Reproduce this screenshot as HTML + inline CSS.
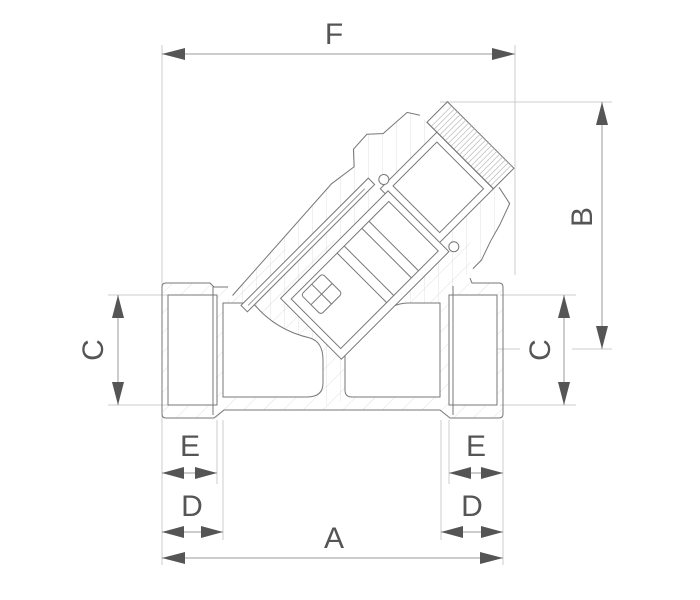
<!DOCTYPE html>
<html><head><style>
html,body{margin:0;padding:0;background:#fff;}
svg{display:block;}
text{font-family:"Liberation Sans",sans-serif;fill:#555;font-size:30px;}
</style></head><body>
<svg width="700" height="600" viewBox="0 0 700 600" xmlns="http://www.w3.org/2000/svg">
<defs>
<pattern id="h" patternUnits="userSpaceOnUse" width="14" height="14" patternTransform="rotate(45)">
<line x1="0" y1="0" x2="0" y2="14" stroke="#d8d8d8" stroke-width="0.8"/>
</pattern>
</defs>
<g stroke="#ccc" stroke-width="1" fill="none">
<line x1="162" y1="45" x2="162" y2="565"/>
<line x1="515" y1="45" x2="515" y2="275"/>
<line x1="440" y1="102" x2="612" y2="102"/>
<line x1="572" y1="349" x2="612" y2="349"/>
<line x1="470" y1="349" x2="520" y2="349"/>
<line x1="108" y1="295" x2="170" y2="295"/>
<line x1="108" y1="405" x2="170" y2="405"/>
<line x1="500" y1="295" x2="576" y2="295"/>
<line x1="500" y1="405" x2="576" y2="405"/>
<line x1="217" y1="420" x2="217" y2="484"/>
<line x1="223" y1="420" x2="223" y2="540"/>
<line x1="449" y1="420" x2="449" y2="484"/>
<line x1="441" y1="420" x2="441" y2="540"/>
<line x1="503" y1="420" x2="503" y2="565"/>
</g>
<g stroke="#999" stroke-width="1">
<line x1="162" y1="54" x2="515" y2="54"/>
<line x1="602" y1="102" x2="602" y2="349"/>
<line x1="118" y1="295" x2="118" y2="405"/>
<line x1="564" y1="295" x2="564" y2="405"/>
<line x1="162" y1="473" x2="217" y2="473"/>
<line x1="449" y1="473" x2="503" y2="473"/>
<line x1="162" y1="532" x2="223" y2="532"/>
<line x1="441" y1="532" x2="503" y2="532"/>
<line x1="162" y1="558" x2="503" y2="558"/>
</g>
<g fill="#555">
<polygon points="162,54 185,48 185,60"/><polygon points="515,54 492,48 492,60"/>
<polygon points="602,102 596,125 608,125"/><polygon points="602,349 596,326 608,326"/>
<polygon points="118,295 112,318 124,318"/><polygon points="118,405 112,382 124,382"/>
<polygon points="564,295 558,318 570,318"/><polygon points="564,405 558,382 570,382"/>
<polygon points="162,473 184,467 184,479"/><polygon points="217,473 195,467 195,479"/>
<polygon points="449,473 471,467 471,479"/><polygon points="503,473 481,467 481,479"/>
<polygon points="162,532 184,526 184,538"/><polygon points="223,532 201,526 201,538"/>
<polygon points="441,532 463,526 463,538"/><polygon points="503,532 481,526 481,538"/>
<polygon points="162,558 185,552 185,564"/><polygon points="503,558 480,552 480,564"/>
</g>
<text x="334" y="44" text-anchor="middle">F</text>
<text x="334" y="548" text-anchor="middle">A</text>
<text x="190" y="456" text-anchor="middle">E</text>
<text x="476" y="456" text-anchor="middle">E</text>
<text x="192" y="516" text-anchor="middle">D</text>
<text x="472" y="516" text-anchor="middle">D</text>
<text transform="translate(93,350) rotate(-90)" text-anchor="middle" dy="10">C</text>
<text transform="translate(540,350) rotate(-90)" text-anchor="middle" dy="10">C</text>
<text transform="translate(582,217) rotate(-90)" text-anchor="middle" dy="10">B</text>

<path d="M166,283 L210,283 L214,287 L228,287 L300,240 L470,240 L470,278 L472,283 L499,283 Q503,283 503,287 L503,414 Q503,418 499,418 L450,418 L440,410 L232,410 L222,418 L166,418 Q162,418 162,414 L162,287 Q162,283 166,283Z" fill="url(#h)" stroke="none"/>
<g transform="translate(480.7,135) rotate(135)">
<polygon points="29,57 36,68 68,70 80,81 100,80 112,67 140,71 300,62 300,-89 88,-89 68,-82 50,-77 28,-69 24,-50" fill="url(#h)" stroke="none"/>
<polyline points="29,57 36,68 68,70 80,81 100,80 112,67 140,71 289,62" fill="none" stroke="#777"/>
<polyline points="24,-50 28,-69 50,-77 68,-82 88,-89 100,-89" fill="none" stroke="#777"/>
</g>
<g stroke="#777" stroke-width="1" fill="none">
<path d="M228,287 L214,287 L210,283 L166,283 Q162,283 162,287 L162,414 Q162,418 166,418 L214,418 L224,410 L440,410 L450,418 L499,418 Q503,418 503,414 L503,287 Q503,283 499,283 L472,283 L470,278"/>
<rect x="168" y="295" width="49" height="110" fill="#fff"/>
<rect x="449" y="295" width="48" height="110" fill="#fff"/>
<line x1="213" y1="286" x2="213" y2="415"/>
<line x1="453" y1="286" x2="453" y2="415"/>
<path d="M223,303 L253,303 Q275,330 310,338 Q323,342 323,360 L323,383 Q323,397 307,397 L223,397Z" fill="#fff"/>
<path d="M345,350 L377,318 Q390,304 407,303 L440,303 L440,397 L352,397 Q345,397 345,390Z" fill="#fff"/>
</g>
<g transform="translate(480.7,135) rotate(135)" stroke="#777" stroke-width="1">
<rect x="110" y="40" width="180" height="9" fill="#fff"/>
<line x1="120" y1="44" x2="285" y2="44" stroke="#999"/>
<rect x="29" y="-47" width="80" height="80" fill="#fff"/>
<rect x="36" y="-40" width="62" height="66" fill="#fff"/>
<rect x="105" y="-60" width="152" height="86" fill="#fff"/>
<rect x="112" y="-52" width="138" height="70" fill="#fff"/>
<line x1="140" y1="-52" x2="140" y2="18"/>
<line x1="150" y1="-52" x2="150" y2="18"/>
<line x1="175" y1="-52" x2="175" y2="18"/>
<line x1="185" y1="-52" x2="185" y2="18"/>
<rect x="210" y="-14" width="30" height="28" fill="#fff" rx="3"/>
<line x1="210" y1="0" x2="240" y2="0"/>
<line x1="225" y1="-14" x2="225" y2="14"/>
<circle cx="100" cy="37" r="5" fill="#fff"/>
<circle cx="98" cy="-60" r="5" fill="#fff"/>
<rect x="0" y="-47" width="29" height="94" fill="#fff"/>
<g stroke="#bbb" stroke-width="0.7">
<line x1="0" y1="-43" x2="29" y2="-43"/><line x1="0" y1="-39" x2="29" y2="-39"/>
<line x1="0" y1="-35" x2="29" y2="-35"/><line x1="0" y1="-31" x2="29" y2="-31"/>
<line x1="0" y1="-27" x2="29" y2="-27"/><line x1="0" y1="-23" x2="29" y2="-23"/>
<line x1="0" y1="-19" x2="29" y2="-19"/><line x1="0" y1="-15" x2="29" y2="-15"/>
<line x1="0" y1="-11" x2="29" y2="-11"/><line x1="0" y1="-7" x2="29" y2="-7"/>
<line x1="0" y1="-3" x2="29" y2="-3"/><line x1="0" y1="1" x2="29" y2="1"/>
<line x1="0" y1="5" x2="29" y2="5"/><line x1="0" y1="9" x2="29" y2="9"/>
<line x1="0" y1="13" x2="29" y2="13"/><line x1="0" y1="17" x2="29" y2="17"/>
<line x1="0" y1="21" x2="29" y2="21"/><line x1="0" y1="25" x2="29" y2="25"/>
<line x1="0" y1="29" x2="29" y2="29"/><line x1="0" y1="33" x2="29" y2="33"/>
<line x1="0" y1="37" x2="29" y2="37"/><line x1="0" y1="41" x2="29" y2="41"/>
</g>
<line x1="29" y1="-47" x2="29" y2="47"/>
</g>
</svg>
</body></html>
